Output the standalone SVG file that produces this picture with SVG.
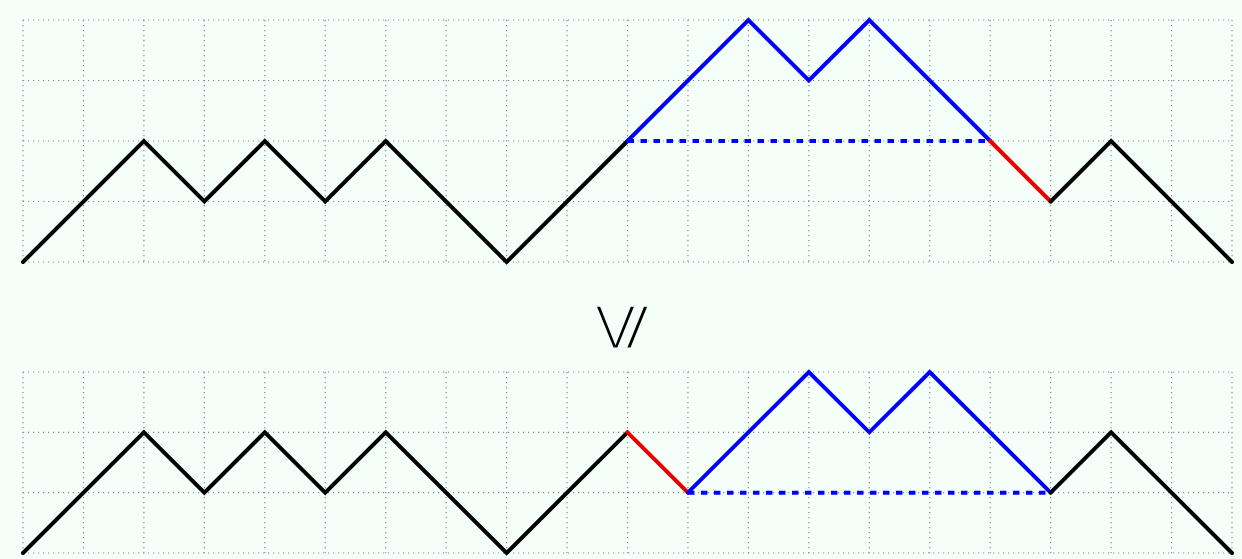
<svg xmlns="http://www.w3.org/2000/svg" width="1242" height="559" viewBox="0 0 1242 559">
<style>
.grid{stroke:#8a8a8a;stroke-width:1.2;stroke-dasharray:1.2 3.8;fill:none}
.k{stroke:#000;stroke-width:4;fill:none;stroke-linejoin:miter;stroke-linecap:round}
.b{stroke:#0000ff;stroke-width:4;fill:none;stroke-linecap:round}
.r{stroke:#e60000;stroke-width:4;fill:none;stroke-linecap:round}
.d{stroke:#0000ff;stroke-width:4;fill:none;stroke-dasharray:6.5 6.5}
.sym{font-family:"DejaVu Sans",sans-serif;font-size:70px;fill:#000;stroke:#f5fffa;stroke-width:3.2}
</style>
<rect width="1242" height="559" fill="#f5fffa"/>
<g id="grid-top" class="grid">
<path d="M23,20H1232M23,80.5H1232M23,141H1232M23,201.5H1232M23,262H1232"/>
<path d="M23,20V262M83.45,20V262M143.9,20V262M204.35,20V262M264.8,20V262M325.25,20V262M385.7,20V262M446.15,20V262M506.6,20V262M567.05,20V262M627.5,20V262M687.95,20V262M748.4,20V262M808.85,20V262M869.3,20V262M929.75,20V262M990.2,20V262M1050.65,20V262M1111.1,20V262M1171.55,20V262M1232,20V262"/>
</g>
<g id="grid-bottom" class="grid">
<path d="M23,372H1232M23,432.3H1232M23,492.7H1232M23,553H1232"/>
<path d="M23,372V553M83.45,372V553M143.9,372V553M204.35,372V553M264.8,372V553M325.25,372V553M385.7,372V553M446.15,372V553M506.6,372V553M567.05,372V553M627.5,372V553M687.95,372V553M748.4,372V553M808.85,372V553M869.3,372V553M929.75,372V553M990.2,372V553M1050.65,372V553M1111.1,372V553M1171.55,372V553M1232,372V553"/>
</g>
<g id="path-top">
<path class="d" d="M627.5,141H990.2"/>
<path class="k" d="M23,262L143.9,141L204.35,201.5L264.8,141L325.25,201.5L385.7,141L506.6,262L627.5,141"/>
<path class="b" d="M627.5,141L748.4,20L808.85,80.5L869.3,20L990.2,141"/>
<path class="r" d="M990.2,141L1050.65,201.5"/>
<path class="k" d="M1050.65,201.5L1111.1,141L1232,262"/>
</g>
<g id="relation">
<text class="sym" transform="translate(613,327) rotate(-90) scale(1,1.12)" text-anchor="middle" dominant-baseline="central">⩽</text>
</g>
<g id="path-bottom">
<path class="d" d="M687.95,492.7H1050.65"/>
<path class="k" d="M23,553L143.9,432.3L204.35,492.7L264.8,432.3L325.25,492.7L385.7,432.3L506.6,553L627.5,432.3"/>
<path class="r" d="M627.5,432.3L687.95,492.7"/>
<path class="b" d="M687.95,492.7L808.85,372L869.3,432.3L929.75,372L1050.65,492.7"/>
<path class="k" d="M1050.65,492.7L1111.1,432.3L1232,553"/>
</g>
</svg>
